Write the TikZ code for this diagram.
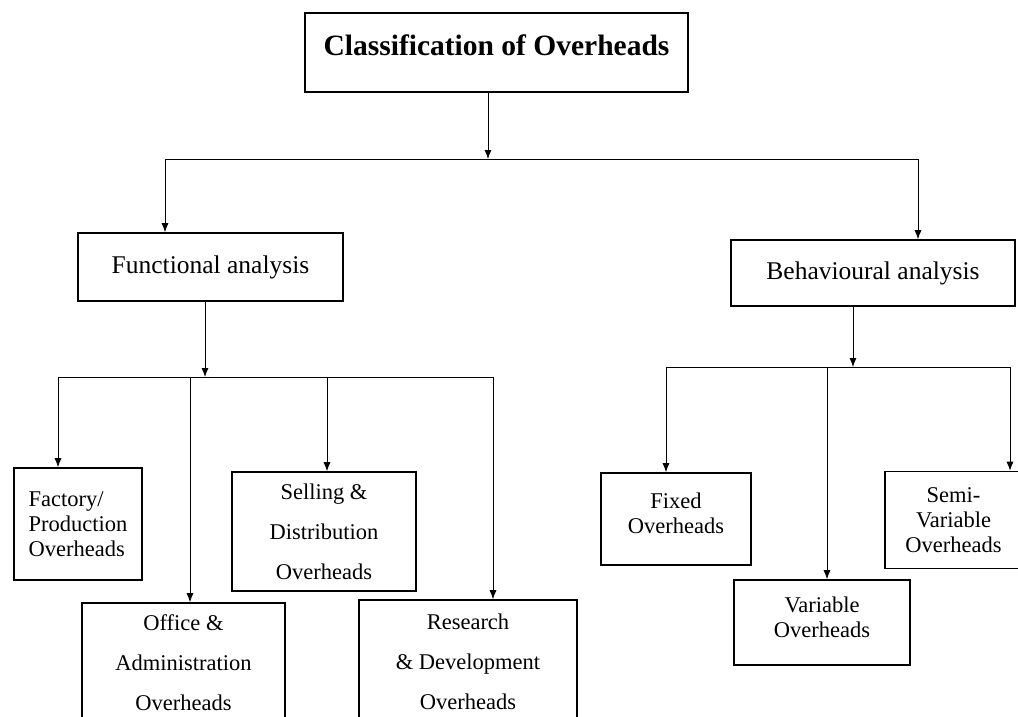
\documentclass[tikz,border=0pt]{standalone}
\usepackage{fontspec}
\setmainfont{Liberation Serif}
\usetikzlibrary{arrows.meta}
\begin{document}
\begin{tikzpicture}[x=1pt,y=-1pt,
  box/.style={draw, line width=1.6pt, align=center, inner sep=0pt},
  head/.style={box, font=\fontsize{25.5}{30}\selectfont},
  leaf/.style={box, font=\fontsize{22.5}{25}\selectfont},
  wideleaf/.style={box, font=\fontsize{22.5}{40}\selectfont},
  arr/.style={-{Latex[length=9pt,width=7pt]}, line width=0.8pt},
  link/.style={line width=0.8pt}]
\clip (0,0) rectangle (1018,717);
\node[box, font=\bfseries\fontsize{29.5}{34}\selectfont, minimum width=383, minimum height=79, text depth=14] (cls) at (496.5,52.5) {Classification of Overheads};
\node[head, minimum width=265, minimum height=68] (fun) at (210.5,267) {Functional analysis};
\node[head, minimum width=284, minimum height=66] (beh) at (873,273) {Behavioural analysis};
\coordinate (j0) at (488,159);
\coordinate (jl) at (165,159);
\coordinate (jr) at (918,159);
\draw[arr](cls.south -| j0) -- (j0);
\draw[link](jl) -- (jr);
\draw[arr](jl) -- (fun.north -| jl);
\draw[arr](jr) -- (beh.north -| jr);

\node[leaf, align=left, minimum width=128, minimum height=112] (fac) at (78,524) {Factory/\\Production\\Overheads};
\node[wideleaf, minimum width=184, minimum height=119] (sel) at (324,531.5) {Selling \&\\Distribution\\Overheads};
\node[wideleaf, minimum width=203, minimum height=119] (off) at (183.5,662.5) {Office \&\\Administration\\Overheads};
\node[wideleaf, minimum width=218, minimum height=124] (res) at (468,662) {Research\\\& Development\\Overheads};
\coordinate (f0) at (205,377);
\coordinate (f1) at (58,377);
\coordinate (f2) at (190,377);
\coordinate (f3) at (327,377);
\coordinate (f4) at (493,377);
\draw[arr](fun.south -| f0) -- (f0);
\draw[link](f1) -- (f4);
\draw[arr](f1) -- (fac.north -| f1);
\draw[arr](f2) -- (off.north -| f2);
\draw[arr](f3) -- (sel.north -| f3);
\draw[arr](f4) -- (res.north -| f4);

\node[leaf, minimum width=150, minimum height=92, text depth=12] (fix) at (676,519) {Fixed\\Overheads};
\node[leaf, minimum width=176, minimum height=85, text depth=10] (var) at (822,622.5) {Variable\\Overheads};
\node[leaf, minimum width=137, minimum height=97] (semi) at (953.5,520) {Semi-\\Variable\\Overheads};
\coordinate (b0) at (853,367);
\coordinate (b1) at (666,367);
\coordinate (b2) at (827,367);
\coordinate (b3) at (1010,367);
\draw[arr](beh.south -| b0) -- (b0);
\draw[link](b1) -- (b3);
\draw[arr](b1) -- (fix.north -| b1);
\draw[arr](b2) -- (var.north -| b2);
\draw[arr](b3) -- (semi.north -| b3);

\end{tikzpicture}
\end{document}
